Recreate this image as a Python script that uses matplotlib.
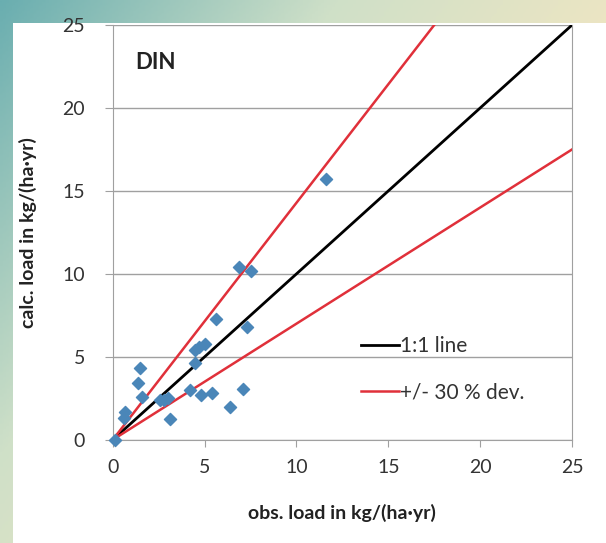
#!/usr/bin/env python3
"""Observed vs calculated DIN load with 1:1 and +/-30 % deviation lines."""

import numpy as np
import matplotlib
matplotlib.use("Agg")
import matplotlib.pyplot as plt
from matplotlib.colors import LinearSegmentedColormap

obs = [0.1, 11.6, 6.9, 7.5, 5.6, 7.3, 4.7, 5.0, 4.5, 4.5, 1.5, 1.4, 1.6,
       0.65, 0.6, 2.6, 2.8, 3.0, 3.1, 4.2, 4.8, 5.4, 6.4, 7.1]
calc = [0.0, 15.7, 10.4, 10.2, 7.3, 6.8, 5.6, 5.8, 5.4, 4.6, 4.3, 3.4, 2.6,
        1.7, 1.3, 2.4, 2.4, 2.5, 1.25, 3.0, 2.7, 2.85, 2.0, 3.05]

line_x = [0, 25]
dev = 0.30
upper_slope = 1 / (1 - dev)
lower_slope = 1 - dev

ticks = [0, 5, 10, 15, 20, 25]

plt.rcParams["font.family"] = ["Lato", "DejaVu Sans"]

fig = plt.figure(figsize=(6.06, 5.43), dpi=100)

# soft frame behind the chart, like the slide it was cut from
bg = fig.add_axes([0, 0, 1, 1], zorder=-10)
bg.axis("off")
gx, gy = np.meshgrid(np.linspace(0, 1, 200), np.linspace(0, 1, 200))
cmap = LinearSegmentedColormap.from_list("frame", ["#6aaeb0", "#cfe0c8", "#f1e6c2", "#e9c98f"])
bg.imshow(0.6 * gx + 0.4 * gy, cmap=cmap, extent=[0, 1, 0, 1], aspect="auto")
bg.add_patch(plt.Rectangle((0.022, 0.0), 0.978, 0.957, color="white", ec="none"))
bg.set_xlim(0, 1)
bg.set_ylim(0, 1)

ax = fig.add_axes([0.186, 0.19, 0.758, 0.764])

ax.plot(line_x, line_x, color="black", lw=2, label="1:1 line", zorder=3)
ax.plot(line_x, [upper_slope * v for v in line_x], color="#e0303a", lw=1.8,
        label="+/- 30 % dev.", zorder=3)
ax.plot(line_x, [lower_slope * v for v in line_x], color="#e0303a", lw=1.8, zorder=3)
ax.scatter(obs, calc, marker="D", s=38, color="#4a86b8", zorder=4, clip_on=False)

ax.set_xlim(0, 25)
ax.set_ylim(0, 25)
ax.set_xticks(ticks)
ax.set_yticks(ticks)
ax.yaxis.grid(True, color="#a0a0a0", lw=1)
ax.set_axisbelow(True)
ax.spines["top"].set_visible(False)
for side in ["left", "bottom", "right"]:
  ax.spines[side].set_color("#a0a0a0")
ax.tick_params(axis="x", direction="out", length=5, color="#a0a0a0", labelsize=14, pad=9,
               labelcolor="#333333")
ax.tick_params(axis="y", direction="out", length=6, color="#a0a0a0", labelsize=14, pad=14,
               labelcolor="#333333")

ax.set_xlabel("obs. load in kg/(ha·yr)", fontsize=14, fontweight="bold", labelpad=20,
              color="#222222")
ax.set_ylabel("calc. load in kg/(ha·yr)", fontsize=14, fontweight="bold", labelpad=18,
              color="#222222")
ax.text(0.05, 0.91, "DIN", transform=ax.transAxes, fontsize=16, fontweight="bold",
        va="center", color="#222222")

ax.legend(loc="center left", bbox_to_anchor=(0.50, 0.17), frameon=False, fontsize=15,
          handlelength=1.8, handletextpad=0.05, labelspacing=1.25, labelcolor="#333333")

fig.savefig("out.png", dpi=100)
